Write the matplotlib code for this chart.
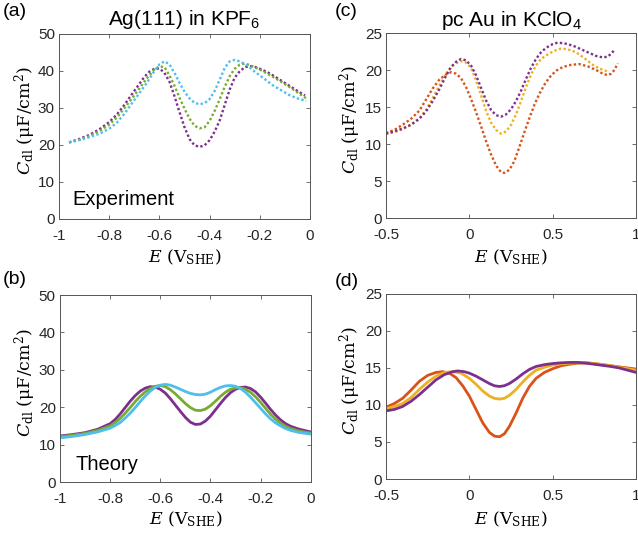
import matplotlib
matplotlib.use("Agg")
import matplotlib.pyplot as plt

plt.rcParams['font.family'] = ['Liberation Sans', 'DejaVu Sans']
plt.rcParams['mathtext.fontset'] = 'dejavuserif'
plt.rcParams['axes.unicode_minus'] = False

# colours (MATLAB defaults)
PURPLE = '#7E2F8E'
GREEN = '#77AC30'
CYAN = '#4DBEEE'
ORANGE = '#D95319'
YELLOW = '#EDB120'

# (a) Ag(111) experiment
xa_purple = [-0.96, -0.92, -0.88, -0.84, -0.80, -0.77, -0.74, -0.71, -0.68, -0.66, -0.64,
             -0.62, -0.60, -0.58, -0.56, -0.54, -0.52, -0.50, -0.48, -0.46, -0.44, -0.42,
             -0.40, -0.38, -0.36, -0.34, -0.32, -0.30, -0.28, -0.26, -0.24, -0.22, -0.20,
             -0.17, -0.14, -0.11, -0.08, -0.05, -0.02]
ya_purple = [20.7, 21.6, 22.7, 24.2, 26.2, 28.2, 30.8, 33.7, 36.5, 38.4, 39.8,
             40.6, 40.7, 39.5, 37.1, 33.2, 28.9, 24.8, 21.6, 19.9, 19.5, 19.9,
             21.3, 23.6, 26.6, 30.8, 35.0, 38.2, 39.9, 41.0, 41.3, 41.1, 40.6,
             39.7, 38.5, 37.2, 35.9, 34.6, 33.4]

xa_green = [-0.96, -0.92, -0.88, -0.84, -0.80, -0.77, -0.74, -0.71, -0.68, -0.65, -0.62,
            -0.60, -0.58, -0.56, -0.54, -0.52, -0.50, -0.48, -0.46, -0.44, -0.42, -0.40,
            -0.38, -0.36, -0.34, -0.32, -0.30, -0.28, -0.26, -0.24, -0.22, -0.20, -0.16,
            -0.12, -0.08, -0.05, -0.015]
ya_green = [20.7, 21.4, 22.4, 23.7, 25.5, 27.4, 29.9, 32.5, 35.3, 38.0, 40.4,
            41.2, 41.1, 38.8, 36.0, 32.8, 29.8, 27.1, 25.2, 24.5, 24.8, 26.5,
            29.2, 32.3, 35.7, 38.6, 40.6, 41.7, 42.0, 41.6, 41.0, 40.4, 38.9,
            37.3, 35.6, 34.2, 32.6]

xa_cyan = [-0.96, -0.92, -0.88, -0.84, -0.80, -0.77, -0.74, -0.71, -0.68, -0.65, -0.62,
           -0.60, -0.58, -0.56, -0.54, -0.52, -0.50, -0.48, -0.46, -0.44, -0.42, -0.40,
           -0.38, -0.36, -0.34, -0.32, -0.30, -0.28, -0.25, -0.22, -0.18, -0.15, -0.12,
           -0.08, -0.05, -0.015]
ya_cyan = [20.7, 21.3, 22.1, 23.0, 24.4, 26.0, 28.4, 31.2, 34.0, 36.8, 40.0,
           41.8, 42.6, 41.8, 39.5, 36.8, 34.4, 32.6, 31.4, 31.0, 31.3, 32.4,
           34.6, 37.6, 40.8, 42.6, 43.0, 42.6, 41.5, 39.8, 37.8, 36.2, 35.0,
           33.4, 32.6, 31.9]

# (b) Ag(111) theory
xb = [-1.0, -0.95, -0.90, -0.85, -0.80, -0.78, -0.76, -0.74, -0.72, -0.70, -0.68,
      -0.66, -0.64, -0.62, -0.60, -0.58, -0.56, -0.54, -0.52, -0.50, -0.48, -0.46,
      -0.44, -0.42, -0.40, -0.38, -0.36, -0.34, -0.32, -0.30, -0.28, -0.26, -0.24,
      -0.22, -0.20, -0.18, -0.16, -0.14, -0.12, -0.10, -0.08, -0.05, -0.02, 0.0]
yb_purple = [12.3, 12.7, 13.2, 14.1, 15.6, 16.7, 18.2, 19.9, 21.6, 23.1, 24.3,
             25.1, 25.5, 25.4, 24.8, 23.8, 22.3, 20.6, 18.9, 17.3, 16.0, 15.4,
             15.5, 16.3, 17.6, 19.3, 21.0, 22.6, 23.9, 24.8, 25.3, 25.4, 25.0,
             24.1, 22.7, 21.1, 19.4, 17.9, 16.6, 15.6, 14.9, 14.2, 13.7, 13.4]
yb_green = [12.1, 12.5, 13.0, 13.8, 15.0, 15.9, 17.0, 18.4, 19.9, 21.5, 22.9,
            24.1, 25.0, 25.6, 25.8, 25.5, 24.7, 23.6, 22.3, 21.0, 19.9, 19.2,
            19.1, 19.5, 20.4, 21.6, 22.9, 24.0, 24.8, 25.2, 25.2, 24.8, 24.0,
            22.8, 21.3, 19.7, 18.1, 16.8, 15.7, 14.9, 14.3, 13.7, 13.3, 13.1]
yb_cyan = [11.8, 12.2, 12.7, 13.4, 14.4, 15.1, 15.9, 17.1, 18.4, 19.9, 21.5,
           23.0, 24.3, 25.3, 25.9, 26.1, 25.9, 25.4, 24.8, 24.2, 23.7, 23.4,
           23.3, 23.5, 24.0, 24.7, 25.3, 25.7, 25.8, 25.6, 25.0, 24.0, 22.7,
           21.2, 19.7, 18.2, 16.9, 15.8, 15.0, 14.3, 13.8, 13.3, 13.0, 12.8]

# (c) pc Au experiment
xc_orange = [-0.50, -0.45, -0.40, -0.35, -0.30, -0.26, -0.22, -0.18, -0.14, -0.11, -0.08,
             -0.05, -0.02, 0.01, 0.04, 0.07, 0.10, 0.13, 0.16, 0.19, 0.21, 0.24,
             0.27, 0.30, 0.33, 0.36, 0.39, 0.42, 0.45, 0.48, 0.52, 0.56, 0.61,
             0.66, 0.71, 0.76, 0.80, 0.83, 0.85, 0.87, 0.89]
yc_orange = [11.5, 11.9, 12.6, 13.4, 14.5, 16.0, 17.5, 18.7, 19.4, 19.7, 19.5,
             18.9, 17.7, 16.1, 14.3, 12.4, 10.4, 8.6, 7.1, 6.2, 6.1, 6.5,
             7.7, 9.6, 11.6, 13.5, 15.3, 16.8, 18.0, 19.0, 19.9, 20.4, 20.7,
             20.8, 20.5, 20.0, 19.5, 19.3, 19.5, 20.0, 20.9]

xc_yellow = [-0.50, -0.45, -0.40, -0.35, -0.30, -0.26, -0.22, -0.18, -0.14, -0.11, -0.08,
             -0.05, -0.02, 0.01, 0.04, 0.07, 0.10, 0.13, 0.16, 0.19, 0.22, 0.25,
             0.28, 0.31, 0.34, 0.37, 0.40, 0.43, 0.47, 0.51, 0.55, 0.59, 0.64,
             0.69, 0.74, 0.78, 0.83]
yc_yellow = [11.4, 11.6, 12.0, 12.6, 13.5, 14.6, 16.2, 17.9, 19.5, 20.4, 20.9,
             21.2, 21.0, 20.3, 18.6, 16.6, 14.5, 12.9, 11.9, 11.4, 11.7, 12.6,
             14.0, 15.8, 17.7, 19.4, 20.6, 21.5, 22.1, 22.6, 22.9, 22.8, 22.4,
             21.6, 20.7, 20.2, 19.8]

xc_purple = [-0.50, -0.45, -0.40, -0.35, -0.30, -0.26, -0.22, -0.18, -0.14, -0.11, -0.08,
             -0.05, -0.02, 0.01, 0.04, 0.07, 0.10, 0.13, 0.16, 0.19, 0.22, 0.25,
             0.28, 0.31, 0.34, 0.37, 0.40, 0.43, 0.46, 0.50, 0.53, 0.57, 0.62,
             0.67, 0.72, 0.76, 0.80, 0.83, 0.85, 0.87]
yc_purple = [11.4, 11.7, 12.1, 12.6, 13.4, 14.4, 15.8, 17.4, 19.2, 20.4, 21.1,
             21.5, 21.3, 20.6, 19.3, 17.6, 15.9, 14.6, 13.9, 13.7, 14.0, 14.7,
             15.8, 17.2, 18.8, 20.3, 21.5, 22.4, 23.0, 23.5, 23.7, 23.6, 23.3,
             22.8, 22.3, 21.9, 21.7, 21.8, 22.2, 22.7]

# (d) pc Au theory
xd_orange = [-0.50, -0.45, -0.40, -0.35, -0.30, -0.25, -0.20, -0.16, -0.12, -0.08, -0.04,
             0.0, 0.04, 0.08, 0.12, 0.15, 0.18, 0.21, 0.24, 0.28, 0.32, 0.36,
             0.40, 0.45, 0.50, 0.55, 0.60, 0.65, 0.70, 0.75, 0.80, 0.85, 0.90,
             0.95, 1.0]
yd_orange = [9.7, 10.2, 10.9, 12.0, 13.2, 14.0, 14.4, 14.5, 14.3, 13.7, 12.6,
             11.2, 9.4, 7.6, 6.3, 5.8, 5.7, 6.1, 7.1, 8.9, 10.9, 12.5,
             13.6, 14.4, 14.9, 15.3, 15.5, 15.65, 15.7, 15.6, 15.45, 15.3, 15.15,
             15.0, 14.85]

xd_yellow = [-0.50, -0.45, -0.40, -0.35, -0.30, -0.25, -0.20, -0.15, -0.10, -0.05, 0.0,
             0.04, 0.08, 0.12, 0.15, 0.18, 0.21, 0.24, 0.28, 0.32, 0.36, 0.40,
             0.45, 0.50, 0.55, 0.60, 0.65, 0.70, 0.75, 0.80, 0.85, 0.90, 0.95,
             1.0]
yd_yellow = [9.5, 9.8, 10.2, 11.0, 12.1, 13.1, 13.9, 14.4, 14.5, 14.3, 13.6,
             12.8, 11.9, 11.2, 10.9, 10.8, 10.9, 11.3, 12.1, 13.1, 14.0, 14.7,
             15.1, 15.4, 15.55, 15.65, 15.7, 15.7, 15.6, 15.45, 15.3, 15.1, 14.9,
             14.7]

xd_purple = [-0.50, -0.45, -0.40, -0.35, -0.30, -0.25, -0.20, -0.15, -0.10, -0.07, -0.03,
             0.0, 0.04, 0.08, 0.12, 0.15, 0.18, 0.21, 0.24, 0.28, 0.32, 0.36,
             0.40, 0.45, 0.50, 0.55, 0.60, 0.65, 0.70, 0.75, 0.80, 0.85, 0.90,
             0.95, 1.0]
yd_purple = [9.2, 9.4, 9.8, 10.5, 11.4, 12.4, 13.4, 14.1, 14.5, 14.6, 14.5,
             14.3, 13.9, 13.4, 12.9, 12.6, 12.5, 12.6, 12.9, 13.5, 14.2, 14.8,
             15.2, 15.45, 15.6, 15.7, 15.75, 15.75, 15.65, 15.5, 15.35, 15.2, 15.0,
             14.7, 14.4]

fig = plt.figure(figsize=(6.38, 5.41), dpi=100)

ax_a = fig.add_axes([0.0925, 0.5952, 0.3934, 0.3420])
ax_c = fig.add_axes([0.605, 0.597, 0.392, 0.342])
ax_b = fig.add_axes([0.094, 0.109, 0.393, 0.3457])
ax_d = fig.add_axes([0.605, 0.1146, 0.392, 0.342])

dots = dict(linestyle=(0, (1, 1)), linewidth=1.7)
solid = dict(linestyle='-', linewidth=2.0, solid_joinstyle='round')

ax_a.plot(xa_purple, ya_purple, color=PURPLE, **dots)
ax_a.plot(xa_green, ya_green, color=GREEN, **dots)
ax_a.plot(xa_cyan, ya_cyan, color=CYAN, **dots)

ax_b.plot(xb, yb_purple, color=PURPLE, **solid)
ax_b.plot(xb, yb_green, color=GREEN, **solid)
ax_b.plot(xb, yb_cyan, color=CYAN, **solid)

ax_c.plot(xc_orange, yc_orange, color=ORANGE, **dots)
ax_c.plot(xc_yellow, yc_yellow, color=YELLOW, **dots)
ax_c.plot(xc_purple, yc_purple, color=PURPLE, **dots)

ax_d.plot(xd_orange, yd_orange, color=ORANGE, **solid)
ax_d.plot(xd_yellow, yd_yellow, color=YELLOW, **solid)
ax_d.plot(xd_purple, yd_purple, color=PURPLE, **solid)

ylab = r'$C_{\mathrm{dl}}\ (\mathrm{\mu F/cm^2})$'
xlab = r'$E\ (\mathrm{V_{SHE}})$'

for ax in (ax_a, ax_b):
    ax.set_xlim(-1, 0)
    ax.set_ylim(0, 50)
    ax.set_xticks([-1, -0.8, -0.6, -0.4, -0.2, 0])
    ax.set_xticklabels(['-1', '-0.8', '-0.6', '-0.4', '-0.2', '0'])
    ax.set_yticks([0, 10, 20, 30, 40, 50])

for ax in (ax_c, ax_d):
    ax.set_xlim(-0.5, 1)
    ax.set_ylim(0, 25)
    ax.set_xticks([-0.5, 0, 0.5, 1])
    ax.set_xticklabels(['-0.5', '0', '0.5', '1'])
    ax.set_yticks([0, 5, 10, 15, 20, 25])

for ax in (ax_a, ax_b, ax_c, ax_d):
    ax.tick_params(direction='in', length=3, width=0.6, color='#555555',
                   labelsize=11, labelcolor='#262626', top=True, right=True)
    ax.tick_params(axis='x', pad=7)
    ax.tick_params(axis='y', pad=3)
    for s in ax.spines.values():
        s.set_color('#555555')
        s.set_linewidth(0.7)
    ax.set_ylabel(ylab, fontsize=12.5)
    ax.set_xlabel(xlab, fontsize=12.5)

ax_a.yaxis.set_label_coords(-0.082, 0.53)
ax_b.yaxis.set_label_coords(-0.086, 0.53)
ax_c.yaxis.set_label_coords(-0.09, 0.53)
ax_d.yaxis.set_label_coords(-0.09, 0.53)
ax_a.xaxis.set_label_coords(0.5, -0.155)
ax_c.xaxis.set_label_coords(0.5, -0.16)
ax_b.xaxis.set_label_coords(0.5, -0.148)
ax_d.xaxis.set_label_coords(0.5, -0.165)

ax_a.text(0.5, 1.049, 'Ag(111) in KPF$_\\mathregular{6}$', transform=ax_a.transAxes,
          fontsize=15, ha='center', va='baseline')
ax_c.text(0.5, 1.036, 'pc Au in KClO$_\\mathregular{4}$', transform=ax_c.transAxes,
          fontsize=15, ha='center', va='baseline')

ax_a.text(0.055, 0.076, 'Experiment', transform=ax_a.transAxes, fontsize=14.5)
ax_b.text(0.06, 0.064, 'Theory', transform=ax_b.transAxes, fontsize=14.5)

fig.text(3 / 638, 1 - 11 / 541, '(a)', fontsize=14, va='center')
fig.text(335 / 638, 1 - 11 / 541, '(c)', fontsize=14, va='center')
fig.text(3 / 638, 1 - 280 / 541, '(b)', fontsize=14, va='center')
fig.text(335 / 638, 1 - 281 / 541, '(d)', fontsize=14, va='center')

fig.savefig('out.png', dpi=100)
